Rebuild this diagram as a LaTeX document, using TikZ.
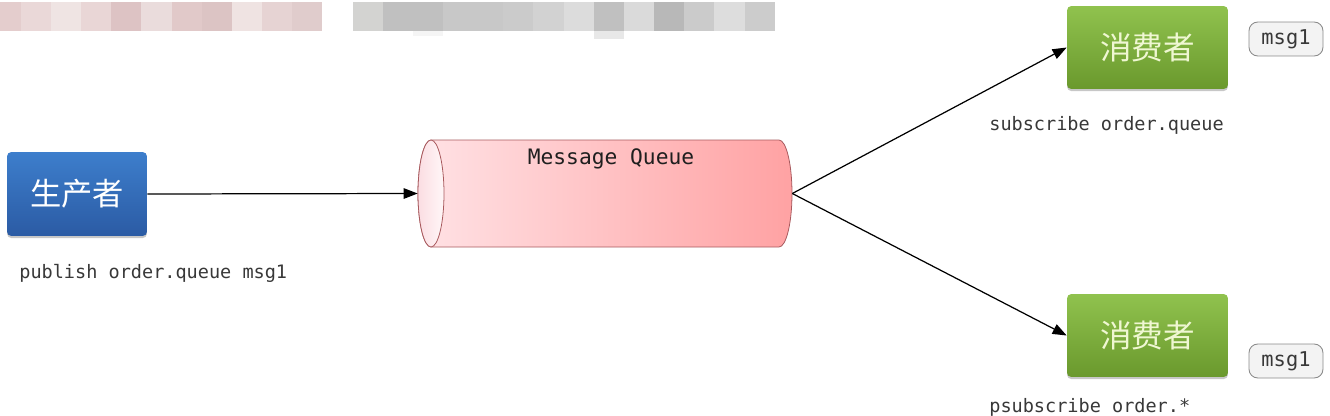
\documentclass[tikz,border=0pt]{standalone}
\usepackage{fontspec}
\newfontfamily\cjk{Noto Sans CJK SC}
\setmonofont{DejaVu Sans Mono}
\usetikzlibrary{arrows.meta,shadows}
\definecolor{prodtop}{HTML}{3D7ECC}
\definecolor{prodbot}{HTML}{2B5BA4}
\definecolor{constop}{HTML}{90C24E}
\definecolor{consbot}{HTML}{6A992D}
\definecolor{constext}{HTML}{EFF7D2}
\definecolor{mqleft}{HTML}{FFE2E5}
\definecolor{mqright}{HTML}{FFA2A3}
\definecolor{mqedge}{HTML}{A85A5E}
\definecolor{faceleft}{HTML}{FBDDE2}
\definecolor{faceright}{HTML}{FFF7F8}
\definecolor{labelgray}{HTML}{383838}
\definecolor{tagfill}{HTML}{F3F3F3}
\definecolor{tagedge}{HTML}{8A8A8A}
\tikzset{
  prodbox/.style={rounded corners=2.5pt, minimum width=2.8cm, minimum height=1.68cm,
    top color=prodtop, bottom color=prodbot, inner sep=0pt,
    drop shadow={shadow xshift=0pt, shadow yshift=-1.2pt, opacity=0.22, fill=black},
    text=white, font=\cjk\fontsize{17.8}{20}\selectfont},
  consbox/.style={rounded corners=2.5pt, minimum width=3.22cm, minimum height=1.66cm,
    top color=constop, bottom color=consbot, inner sep=0pt,
    drop shadow={shadow xshift=0pt, shadow yshift=-1.2pt, opacity=0.22, fill=black},
    text=constext, font=\cjk\fontsize{18}{20}\selectfont},
  tagbox/.style={rounded corners=5pt, minimum width=1.48cm, minimum height=0.68cm,
    fill=tagfill, draw=tagedge, line width=0.5pt, inner sep=0pt,
    text=labelgray, font=\ttfamily\fontsize{11.6}{13}\selectfont},
  cmdlabel/.style={anchor=west, inner sep=0pt, text=labelgray,
    font=\ttfamily\fontsize{10.55}{12}\selectfont},
  conn/.style={line width=0.7pt, -{Triangle[length=8pt,width=6pt]}},
}
\begin{document}
\begin{tikzpicture}[x=0.02cm,y=-0.02cm]
\useasboundingbox (0,0) rectangle (1330,416);
% pixelated strip at top
\foreach \a/\b/\c in {0/21/E4CDCD,21/51/EAD8D8,51/81/EFE4E3,81/111/E9D6D6,111/141/DDC3C4,
  141/172/EADCDC,172/202/E1C9C9,202/232/DCC4C4,232/262/EFE3E2,262/292/E6D3D3,292/322/E0CCCC,
  353/383/D3D3D1,383/413/C0C0C0,413/443/C0C0C0,443/473/C8C8C8,473/503/C8C8C8,503/533/CBCBCB,
  533/564/D2D2D2,564/594/DCDCDC,594/624/C0C0C0,624/654/DADADA,654/684/B8B8B8,684/714/CBCBCB,
  714/745/DDDDDD,745/775/CCCCCC}{
  \definecolor{mosaic}{HTML}{\c}
  \fill[mosaic] (\a,2) rectangle (\b,31);
}
\fill[color=black!9] (594,31) rectangle (624,39);
\fill[color=black!4] (413,31) rectangle (443,36);

% message queue cylinder
\shade[left color=mqleft, right color=mqright, draw=mqedge, line width=0.45pt]
  (431,140) -- (779,140)
  .. controls (786.18,140) and (792,163.95) .. (792,193.5)
  .. controls (792,223.05) and (786.18,247) .. (779,247)
  -- (431,247)
  .. controls (423.82,247) and (418,223.05) .. (418,193.5)
  .. controls (418,163.95) and (423.82,140) .. (431,140) -- cycle;
\shade[left color=faceleft, right color=faceright, draw=mqedge, line width=0.45pt]
  (431,193.5) ellipse [x radius=13, y radius=53.5];
\node[minimum width=7.48cm, minimum height=2.14cm, inner sep=0pt] (mq) at (605,193.5) {};
\node[inner sep=0pt, text=black!88, font=\ttfamily\fontsize{12.1}{14}\selectfont] (mqt) at (611,159) {Message Queue};

% producer and consumers
\node[prodbox] (prod) at (77,194) {生产者};
\node[consbox] (c1) at (1147.5,47.5) {消费者};
\node[consbox] (c2) at (1147.5,335.5) {消费者};

% tags
\node[tagbox] (t1) at (1286,39) {msg1};
\node[tagbox] (t2) at (1286,361) {msg1};

% labels
\node[cmdlabel] (l1) at (19,273) {publish order.queue msg1};
\node[cmdlabel] (l2) at (989,125) {subscribe order.queue};
\node[cmdlabel] (l3) at (989,407) {psubscribe order.*};

% connectors
\draw[conn] (prod.east) -- (mq.west);
\draw[conn] (mq.east) -- (c1.west);
\draw[conn] (mq.east) -- (c2.west);
\end{tikzpicture}
\end{document}
